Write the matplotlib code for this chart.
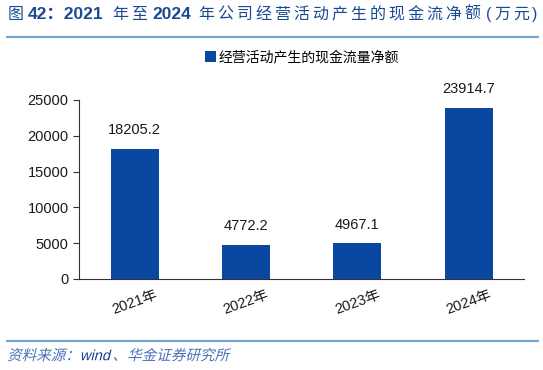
import numpy as np
import matplotlib.pyplot as plt
from matplotlib.lines import Line2D
from matplotlib.textpath import TextPath
from matplotlib.patches import PathPatch
from matplotlib.font_manager import FontProperties
from matplotlib.transforms import Affine2D, IdentityTransform

plt.rcParams['font.family'] = ['Liberation Sans', 'Noto Sans CJK SC', 'DejaVu Sans']

# data
years = ['2021年', '2022年', '2023年', '2024年']
cash_flow = [18205.2, 4772.2, 4967.1, 23914.7]
y_ticks = [0, 5000, 10000, 15000, 20000, 25000]

bar_color = '#0A47A0'
title_color = '#1B4A94'
line_color = '#6FA6D6'

W, H = 543, 370
fig = plt.figure(figsize=(W / 100, H / 100), dpi=100)
ax = fig.add_axes([0.1455, 0.246, 0.82, 0.484])

x = np.arange(len(years))
ax.bar(x, cash_flow, width=0.43, color=bar_color, label='经营活动产生的现金流量净额')
for xi, v in zip(x, cash_flow):
    ax.text(xi, v + 1600, f'{v:.1f}', ha='center', va='bottom', fontsize=10.5, color='#1a1a1a')

ax.set_xlim(-0.5, 3.5)
ax.set_ylim(0, 25000)
ax.set_yticks(y_ticks)
ax.set_yticklabels([str(t) for t in y_ticks], fontsize=10.5, color='#1a1a1a')
ax.set_xticks(x)
ax.set_xticklabels(years, fontsize=10.5, rotation=20, color='#1a1a1a')
ax.tick_params(axis='x', length=0, pad=6)
ax.tick_params(axis='y', direction='out', length=4, color='#333333')
for s in ['top', 'right']:
    ax.spines[s].set_visible(False)
ax.spines['left'].set_color('#333333')
ax.spines['bottom'].set_color('#333333')

ax.legend(loc='upper center', bbox_to_anchor=(0.5, 1.345), frameon=False,
          fontsize=10, handlelength=0.8, handleheight=0.8, handletextpad=0.2)

# title: bold digits, chinese on a fixed 19px pitch
renderer = fig.canvas.get_renderer()
# (text, weight, mode, size, gap after) ; mode 'cjk' = fixed pitch per char
pieces = [('图', 'normal', 'cjk', 11.5, 1), ('42：2021', 'bold', 'run', 12.5, 9),
          ('年至', 'normal', 'cjk', 11.5, 2), ('2024', 'bold', 'run', 12.5, 7),
          ('年公司经营活动产生的现金流净额', 'normal', 'cjk', 11.5, 3),
          ('(', 'normal', 'run', 11.5, 3), ('万元', 'normal', 'cjk', 11.5, -1),
          (')', 'normal', 'run', 11.5, 0)]
pitch = 19
px = 8
for txt, w, mode, fs, after in pieces:
    chunks = list(txt) if mode == 'cjk' else [txt]
    for ch in chunks:
        t = fig.text(px / W, 0.962, ch, fontsize=fs, color=title_color, va='center',
                     ha='left', fontweight=w)
        if mode == 'cjk':
            px += pitch
        else:
            bb = t.get_window_extent(renderer)
            px = bb.x1
    px += after

fig.add_artist(Line2D([0.012, 0.99], [0.9, 0.9], color=line_color, lw=1.5))
fig.add_artist(Line2D([0.012, 0.99], [0.078, 0.078], color=line_color, lw=1.5))

# italic source line, skewed by hand since CJK fonts have no italic
src = [('资料来源：', '#4A72B8', True), ('wind', '#1A3F8F', False),
       ('、', '#4A72B8', True), ('华金证券研究所', '#4A72B8', True)]
size = 10.5
fp = FontProperties(family=['Liberation Sans', 'Noto Sans CJK SC'], size=size)
scale = 100 / 72
px = 7.0
py = H * 0.04 - 5
for txt, c, cjk in src:
    tp = TextPath((0, 0), txt, prop=fp)
    tr = Affine2D().skew_deg(14, 0).scale(scale).translate(px, py)
    fig.add_artist(PathPatch(tp, transform=tr + IdentityTransform(), color=c, lw=0))
    if cjk:
        px += len(txt) * size * scale
    else:
        px += (tp.get_extents().x1 + 2.5) * scale

fig.savefig('out.png', dpi=100)
